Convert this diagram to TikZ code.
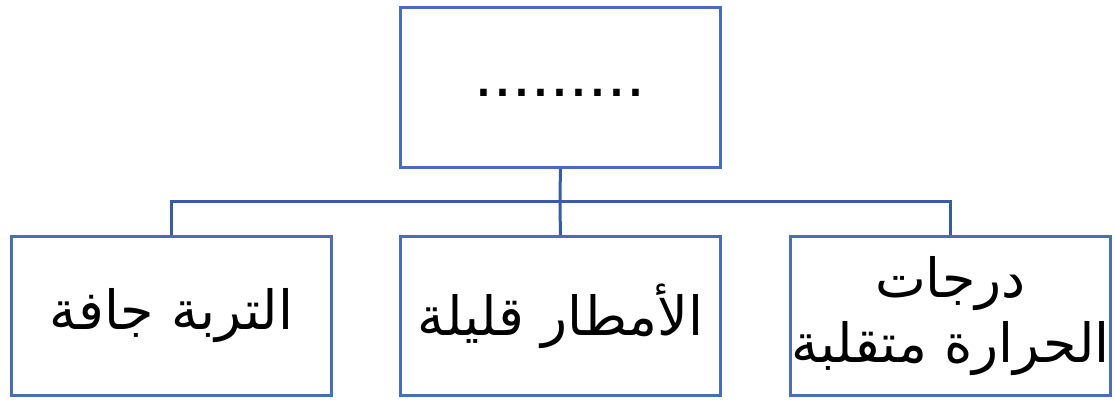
\documentclass[tikz,border=0pt]{standalone}
\usepackage{fontspec}
\setmainfont{Liberation Sans}
\newfontfamily\arabicfont[Script=Arabic]{DejaVu Sans}
\TeXXeTstate=1
\begin{document}
\begin{tikzpicture}[x=1pt,y=-1pt,
  boxstyle/.style={draw=boxblue,line width=2.8pt,minimum width=320pt,minimum height=159pt,inner sep=0pt,anchor=north west,align=center},
  link/.style={draw=lineblue,line width=3pt}]
\definecolor{boxblue}{HTML}{4A6EB4}
\definecolor{lineblue}{HTML}{3A5C9E}
\useasboundingbox (0,0) rectangle (1115,399);
\node[boxstyle,minimum height=160pt] (top) at (399,6) {};
\node[font=\fontsize{68}{70}\selectfont] (dots) at (560,93) {.........};
\node[boxstyle] (left) at (10,235) {\arabicfont\fontsize{54}{60}\selectfont\beginR التربة جافة\endR};
\node[boxstyle] (mid) at (399,235) {\arabicfont\fontsize{54}{60}\selectfont\beginR الأمطار قليلة\endR};
\node[boxstyle] (right) at (789,235) {\arabicfont\fontsize{54}{62}\selectfont\beginR درجات\endR\\[10pt]\arabicfont\fontsize{54}{62}\selectfont\beginR الحرارة متقلبة\endR};
\coordinate (bus) at (560,201);
\draw[link] (top.south) -- (bus);
\draw[link] (left.north) |- (bus) -| (right.north);
\draw[link] (bus) -- (mid.north);
\end{tikzpicture}
\end{document}
